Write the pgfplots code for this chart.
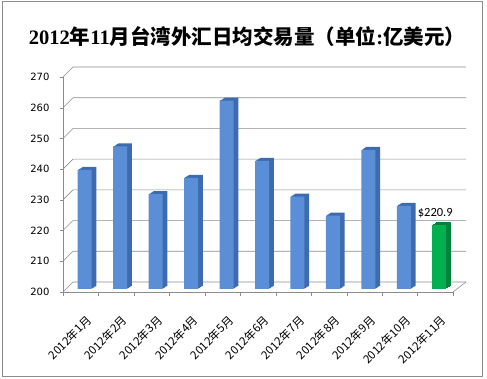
\documentclass[border=0pt]{standalone}
\usepackage{pgfplots}
\pgfplotsset{compat=1.18}
\usepackage{pgfplotstable}
\usepackage{fontspec}
\setmainfont{Liberation Sans}
\newfontfamily\cjk{Noto Sans CJK SC}
\newfontfamily\carl{Carlito}
\newfontfamily\dejavu{DejaVu Sans}
\newfontfamily\lserif{Liberation Serif}
\definecolor{bfront}{HTML}{5A8ED6}
\definecolor{bside}{HTML}{3D6BAE}
\definecolor{gfront}{HTML}{00B050}
\definecolor{gside}{HTML}{00843C}
\definecolor{gridc}{HTML}{8C8C8C}
\pgfplotstableread{
x y
1 238.8
2 246.4
3 230.9
4 236.2
5 261.3
6 241.7
7 230.1
8 223.9
9 245.3
10 227.1
}\bluedata
\pgfplotstableread{
x y
11 220.9
}\greendata
\begin{document}
\begin{tikzpicture}[x=1pt,y=1pt]
\path[use as bounding box] (0,0) rectangle (487,379);
\draw[gridc, line width=0.8pt] (2,2.3) rectangle (482,377.3);
\node[font=\cjk\bfseries\fontsize{20.5}{23}\selectfont] at (247,342.3) {{\lserif\bfseries 2012}年{\lserif\bfseries 11}月台湾外汇日均交易量（单位{\lserif\bfseries :}亿美元）};
\begin{axis}[
  at={(63pt,87pt)}, anchor=south west,
  width=390pt, height=215pt, scale only axis,
  xmin=0.5, xmax=11.5, ymin=0, ymax=70,
  axis lines*=left,
  axis line style={gridc, line width=0.6pt},
  ytick={0,10,20,30,40,50,60,70},
  yticklabels={200,210,220,230,240,250,260,270},
  xtick={1,2,3,4,5,6,7,8,9,10,11},
  xticklabels={2012年1月,2012年2月,2012年3月,2012年4月,2012年5月,2012年6月,2012年7月,2012年8月,2012年9月,2012年10月,2012年11月},
  minor xtick={0.5,1.5,2.5,3.5,4.5,5.5,6.5,7.5,8.5,9.5,10.5,11.5},
  major x tick style={draw=none},
  minor x tick style={gridc},
  y tick style={gridc},
  tick align=outside,
  major tick length=3pt, minor tick length=4pt,
  x tick label style={font=\cjk\fontsize{11.5}{13}\selectfont, rotate=45, anchor=north east, inner sep=0pt, yshift=-17pt, xshift=-10pt},
  y tick label style={font=\dejavu\fontsize{10}{12}\selectfont, xshift=-7pt},
  clip=false,
]
\pgfplotsinvokeforeach{0,10,20,30,40,50,60,70}{
  \draw[gridc, line width=0.6pt] (axis cs:0.5,#1) -- ++(10pt,10pt) -- ([xshift=13pt,yshift=10pt]axis cs:11.5,#1);
}
\draw[gridc, line width=0.6pt] (axis cs:11.5,0) -- ([xshift=13pt,yshift=10pt]axis cs:11.5,0);
\pgfplotsinvokeforeach{1,2,3,4,5}{
  \addplot[ybar, bar shift=4pt, bar width=14pt, fill=bside, draw=none, xshift=#1*0.95pt, yshift=3pt+#1*0.6pt]
    table[x=x, y expr=\thisrow{y}-200] {\bluedata};
  \addplot[ybar, bar shift=4pt, bar width=14pt, fill=gside, draw=none, xshift=#1*0.95pt, yshift=3pt+#1*0.6pt]
    table[x=x, y expr=\thisrow{y}-200] {\greendata};
}
\addplot[ybar, bar shift=4pt, bar width=14pt, fill=bfront, draw=none, yshift=3pt]
  table[x=x, y expr=\thisrow{y}-200] {\bluedata};
\addplot[ybar, bar shift=4pt, bar width=14pt, fill=gfront, draw=none, yshift=3pt,
  point meta=explicit,
  nodes near coords={\$\pgfmathprintnumber[fixed,precision=1,fixed zerofill,assume math mode=true]{\pgfplotspointmeta}},
  every node near coord/.append style={font=\carl\fontsize{12.5}{14}\selectfont, anchor=south, yshift=3pt, text=black}]
  table[x=x, y expr=\thisrow{y}-200, meta=y] {\greendata};
\end{axis}
\end{tikzpicture}
\end{document}
